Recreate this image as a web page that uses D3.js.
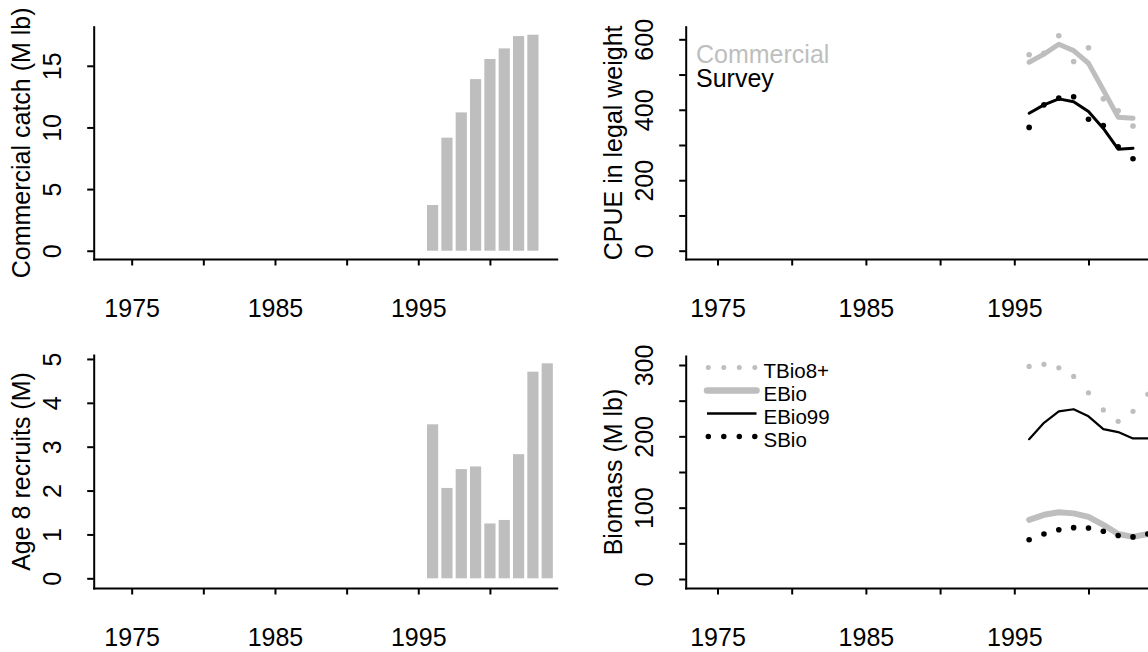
<!DOCTYPE html>
<html>
<head>
<meta charset="utf-8">
<script src="https://cdn.jsdelivr.net/npm/d3@7"></script>
<style>
  body { margin: 0; background: #fff; }
  svg text { font-family: "Liberation Sans", Arial, Helvetica, sans-serif; fill: #000; }
</style>
</head>
<body>
<div id="graph"></div>
<script>
// values
var catchYears = [1996, 1997, 1998, 1999, 2000, 2001, 2002, 2003];
var catchMlb = [3.71, 9.17, 11.22, 13.92, 15.55, 16.41, 17.41, 17.52];

var recruitYears = [1996, 1997, 1998, 1999, 2000, 2001, 2002, 2003, 2004];
var recruitsM = [3.51, 2.06, 2.49, 2.55, 1.25, 1.33, 2.83, 4.71, 4.90];

var cpueYears = [1996, 1997, 1998, 1999, 2000, 2001, 2002, 2003];
var commercialObs = [556, 560, 610, 537, 576, 431, 397, 354];
var commercialFit = [535, 558, 586, 568, 532, 456, 379, 376];
var surveyObs = [350, 414, 433, 437, 373, 355, 295, 261];
var surveyFit = [390, 414, 431, 423, 395, 347, 288, 291];

var bioYears = [1996, 1997, 1998, 1999, 2000, 2001, 2002, 2003, 2004];
var tbio8 = [298, 301, 296, 284, 261, 237, 221, 235, 259];
var ebio = [83, 90, 93.5, 92, 87, 76, 63, 59, 63];
var ebio99 = [196, 219, 235, 238, 228, 210, 206, 197, 197];
var sbio = [55, 63, 69, 72, 71.5, 67, 61, 59, 63];

var xTicks = [1975, 1980, 1985, 1990, 1995, 2000];
var grey = "#bebebe";

var svg = d3.select("#graph")
  .append("svg")
    .attr("width", 1148)
    .attr("height", 652);

svg.append("rect")
  .attr("width", 1148)
  .attr("height", 652)
  .attr("fill", "#fff");

// draws axes + y title for one panel, returns the scales
function panel(p) {
  var x = d3.scaleLinear().domain(p.xDomain).range(p.xRange);
  var y = d3.scaleLinear().domain(p.yDomain).range(p.yRange);
  var g = svg.append("g");

  // X axis
  var gx = g.append("g")
    .attr("transform", "translate(0," + p.yRange[0] + ")")
    .call(d3.axisBottom(x)
      .tickValues(xTicks)
      .tickFormat(function(d) { return d % 10 == 5 ? d : ""; })
      .tickSize(6.5)
      .tickSizeOuter(0));
  gx.selectAll("text").attr("y", 58).attr("dy", null);

  // Y axis
  var gy = g.append("g")
    .attr("transform", "translate(" + p.xRange[0] + ",0)")
    .call(d3.axisLeft(y)
      .tickValues(p.yTicks)
      .tickFormat(function(d) { return p.yLabels.indexOf(d) >= 0 ? d : ""; })
      .tickSize(6.5)
      .tickSizeOuter(0));
  gy.selectAll("text")
    .attr("x", 0)
    .attr("dy", null)
    .attr("text-anchor", "middle")
    .attr("transform", "translate(-32.5,0) rotate(-90)");

  [gx, gy].forEach(function(a) {
    a.attr("font-size", 25).attr("font-family", null);
    a.selectAll("path, line").attr("stroke-width", 2);
    a.select(".domain").attr("stroke-linecap", "square");
  });

  // y title, centred on the plot region like R's ylab
  var mid = (p.yRange[0] + p.yRange[1]) / 2;
  g.append("text")
    .attr("transform", "translate(" + (p.xRange[0] - 63.7) + "," + mid + ") rotate(-90)")
    .attr("text-anchor", "middle")
    .attr("font-size", 25)
    .text(p.title);

  return { g: g, x: x, y: y };
}

var leftX = { xDomain: [1972.35, 2004.66], xRange: [93.7, 556.7] };
var rightX = { xDomain: [1972.857, 2005.5], xRange: [685.7, 1170.1] };

// ---- top left: commercial catch
var p1 = panel({
  xDomain: leftX.xDomain, xRange: leftX.xRange,
  yDomain: [-0.67, 18.17], yRange: [259, 26.7],
  yTicks: [0, 5, 10, 15], yLabels: [0, 5, 10, 15],
  title: "Commercial catch (M lb)"
});
p1.g.selectAll(".bar")
  .data(catchYears)
  .enter().append("rect")
    .attr("x", function(d) { return p1.x(d - 0.39); })
    .attr("width", function(d) { return p1.x(d + 0.39) - p1.x(d - 0.39); })
    .attr("y", function(d, i) { return p1.y(catchMlb[i]); })
    .attr("height", function(d, i) { return p1.y(0) - p1.y(catchMlb[i]); })
    .attr("fill", grey);

// ---- bottom left: recruits
var p3 = panel({
  xDomain: leftX.xDomain, xRange: leftX.xRange,
  yDomain: [-0.221, 5.09], yRange: [588, 355],
  yTicks: [0, 1, 2, 3, 4, 5], yLabels: [0, 1, 2, 3, 4, 5],
  title: "Age 8 recruits (M)"
});
p3.g.selectAll(".bar")
  .data(recruitYears)
  .enter().append("rect")
    .attr("x", function(d) { return p3.x(d - 0.39); })
    .attr("width", function(d) { return p3.x(d + 0.39) - p3.x(d - 0.39); })
    .attr("y", function(d, i) { return p3.y(recruitsM[i]); })
    .attr("height", function(d, i) { return p3.y(0) - p3.y(recruitsM[i]); })
    .attr("fill", grey);

// ---- top right: CPUE
var p2 = panel({
  xDomain: rightX.xDomain, xRange: rightX.xRange,
  yDomain: [-23.6, 635.8], yRange: [259, 26.7],
  yTicks: [0, 100, 200, 300, 400, 500, 600], yLabels: [0, 200, 400, 600],
  title: "CPUE in legal weight"
});

function addLine(pp, years, vals, color, width) {
  pp.g.append("path")
    .datum(years.map(function(d, i) { return [d, vals[i]]; }))
    .attr("fill", "none")
    .attr("stroke", color)
    .attr("stroke-width", width)
    .attr("stroke-linejoin", "round")
    .attr("stroke-linecap", "round")
    .attr("d", d3.line()
      .x(function(d) { return pp.x(d[0]); })
      .y(function(d) { return pp.y(d[1]); }));
}
function addDots(pp, years, vals, color, r) {
  pp.g.append("g").selectAll("circle")
    .data(years)
    .enter().append("circle")
      .attr("cx", function(d) { return pp.x(d); })
      .attr("cy", function(d, i) { return pp.y(vals[i]); })
      .attr("r", r)
      .attr("fill", color);
}

addDots(p2, cpueYears, commercialObs, grey, 2.8);
addLine(p2, cpueYears, commercialFit, grey, 5);
addDots(p2, cpueYears, surveyObs, "#000", 2.8);
addLine(p2, cpueYears, surveyFit, "#000", 3);

p2.g.append("text").attr("x", 696).attr("y", 62.7).attr("font-size", 25).style("fill", grey).text("Commercial");
p2.g.append("text").attr("x", 696).attr("y", 87.3).attr("font-size", 25).text("Survey");

// ---- bottom right: biomass
var p4 = panel({
  xDomain: rightX.xDomain, xRange: rightX.xRange,
  yDomain: [-12.6, 312.6], yRange: [588, 356],
  yTicks: [0, 50, 100, 150, 200, 250, 300], yLabels: [0, 100, 200, 300],
  title: "Biomass (M lb)"
});

addDots(p4, bioYears, tbio8, grey, 2.6);
addLine(p4, bioYears, ebio, grey, 6);
addLine(p4, bioYears, ebio99, "#000", 2.2);
addDots(p4, bioYears, sbio, "#000", 2.8);

// legend
var legend = [
  { name: "TBio8+", color: grey, width: 5, dash: "0,15.5" },
  { name: "EBio", color: grey, width: 6.5, dash: null },
  { name: "EBio99", color: "#000", width: 2.3, dash: null },
  { name: "SBio", color: "#000", width: 5.5, dash: "0,15.5" }
];
var lg = p4.g.append("g").attr("transform", "translate(0,367.5)");
legend.forEach(function(d, i) {
  lg.append("line")
    .attr("x1", d.dash ? 708.3 : 707).attr("x2", d.dash ? 756 : 756.5)
    .attr("y1", i * 23).attr("y2", i * 23)
    .attr("stroke", d.color)
    .attr("stroke-width", d.width)
    .attr("stroke-linecap", d.dash ? "round" : (i == 1 ? "round" : "butt"))
    .attr("stroke-dasharray", d.dash);
  lg.append("text")
    .attr("x", 763.5)
    .attr("y", i * 23 + 10.8)
    .attr("font-size", 20.5)
    .text(d.name);
});
</script>
</body>
</html>
